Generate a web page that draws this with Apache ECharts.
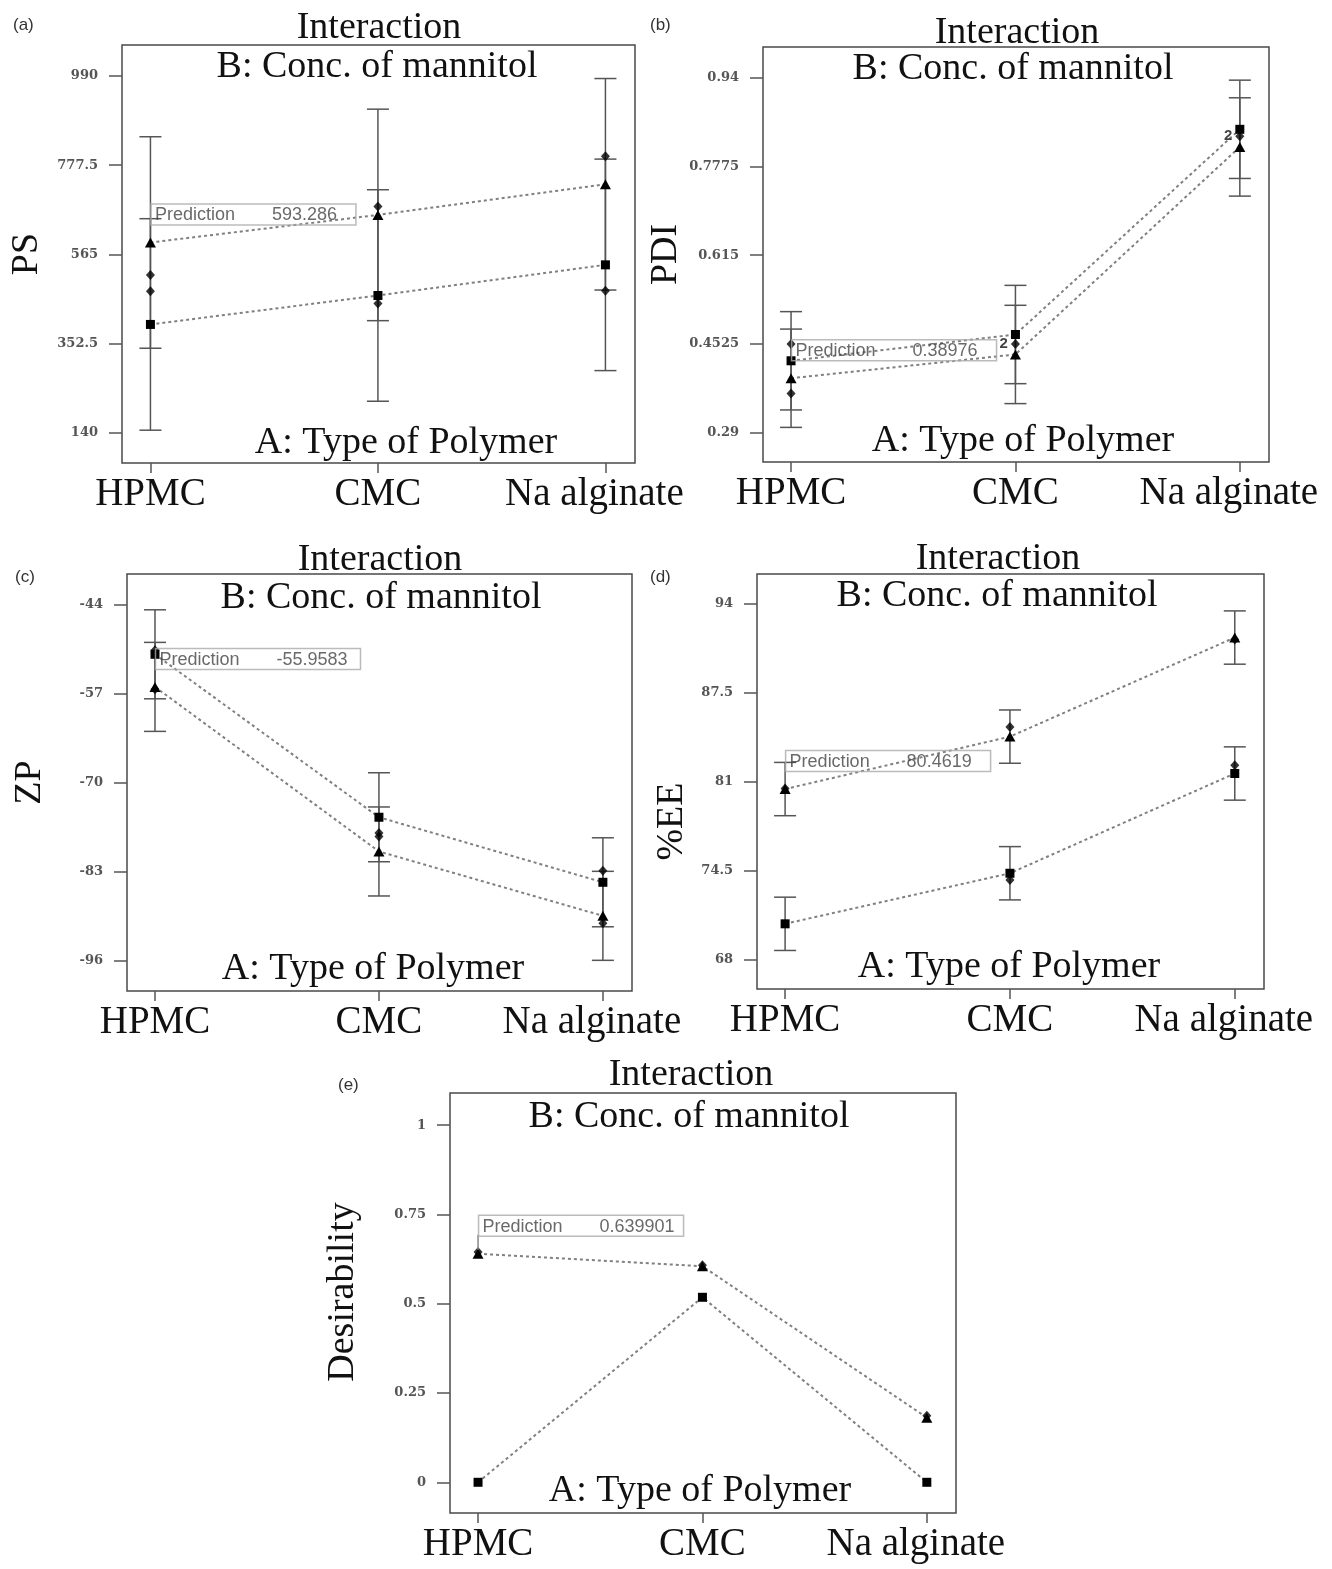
<!DOCTYPE html>
<html><head><meta charset="utf-8">
<script src="https://cdn.jsdelivr.net/npm/echarts@6/dist/echarts.min.js"></script>
<style>html,body{margin:0;padding:0;background:#fff}#chart{width:1332px;height:1569px}</style>
</head><body><div id="chart"></div>
<script>
// ---------- data ----------
const polymers = ['HPMC', 'CMC', 'Na alginate'];
const polymerIndex = [0, 1, 2];

// (a) PS
const psTicks = [140, 352.5, 565, 777.5, 990];
const psLow = [398, 467, 540];            // B- (squares)
const psHigh = [593.286, 659, 732];       // B+ (triangles)
const psDesign = [[0, 516], [0, 477], [1, 679], [1, 448], [2, 799], [2, 478]];
const psDesignCount = [1, 1, 1, 1, 1, 1];
const psHalfLSD = 252;

// (b) PDI
const pdiTicks = [0.29, 0.4525, 0.615, 0.7775, 0.94];
const pdiLow = [0.4217, 0.4698, 0.8455];
const pdiHigh = [0.38976, 0.4333, 0.8132];
const pdiDesign = [[0, 0.4525], [0, 0.362], [1, 0.4525], [2, 0.833]];
const pdiDesignCount = [1, 1, 2, 2];
const pdiHalfLSD = 0.09;

// (c) ZP
const zpTicks = [-96, -83, -70, -57, -44];
const zpLow = [-51.2, -75.0, -84.5];
const zpHigh = [-55.9583, -80.0, -89.4];
const zpDesign = [[0, -50.6], [0, -56.3], [1, -77.3], [1, -77.8], [2, -82.8], [2, -90.5]];
const zpDesignCount = [1, 1, 1, 1, 1, 1];
const zpHalfLSD = 6.5;

// (d) %EE
const eeTicks = [68, 74.5, 81, 87.5, 94];
const eeLow = [70.6, 74.3, 81.6];
const eeHigh = [80.4619, 84.3, 91.55];
const eeDesign = [[0, 80.5], [1, 85.0], [1, 73.8], [2, 91.4], [2, 82.2]];
const eeDesignCount = [1, 1, 1, 1, 1];
const eeHalfLSD = 1.95;

// (e) Desirability
const desTicks = [0, 0.25, 0.5, 0.75, 1];
const desLow = [0, 0.518, 0];
const desHigh = [0.639901, 0.605, 0.181];
const desDesign = [[0, 0.645], [1, 0.608], [2, 0.186]];
const desDesignCount = [1, 1, 1];

// ---------- layout / style ----------
const SERIF = '"Liberation Serif", "Times New Roman", serif';
const SANS = '"Liberation Sans", Arial, sans-serif';

const panels = [
  { tag: '(a)', tagPos: [13, 17], grid: { left: 122, top: 45, width: 513, height: 418 }, yMin: 67.8, yMax: 1063.9,
    ticks: psTicks, name: 'PS', nameGap: 76, namePad: [0, 0, 0, 0], low: psLow, high: psHigh, design: psDesign, counts: psDesignCount,
    half: psHalfLSD, titleX: [379, 377, 406], titleY: [25, 64, 440], leader: false },
  { tag: '(b)', tagPos: [650, 17], grid: { left: 763, top: 47, width: 506, height: 415 }, yMin: 0.2364, yMax: 0.9962,
    ticks: pdiTicks, name: 'PDI', nameGap: 67, namePad: [0, 0, 0, 0], low: pdiLow, high: pdiHigh, design: pdiDesign, counts: pdiDesignCount,
    half: pdiHalfLSD, titleX: [1017, 1013, 1023], titleY: [30, 66, 438], leader: false },
  { tag: '(c)', tagPos: [15, 569], grid: { left: 127, top: 574, width: 505, height: 417 }, yMin: -100.38, yMax: -39.47,
    ticks: zpTicks, name: 'ZP', nameGap: 78, namePad: [0, 0, 0, 0], low: zpLow, high: zpHigh, design: zpDesign, counts: zpDesignCount,
    half: zpHalfLSD, titleX: [380, 381, 373], titleY: [557, 595, 966], leader: false },
  { tag: '(d)', tagPos: [650, 569], grid: { left: 757, top: 574, width: 507, height: 415 }, yMin: 65.83, yMax: 96.2,
    ticks: eeTicks, name: '%EE', nameGap: 66, namePad: [0, 80, 0, 0], low: eeLow, high: eeHigh, design: eeDesign, counts: eeDesignCount,
    half: eeHalfLSD, titleX: [998, 997, 1009], titleY: [556, 593, 964], leader: false },
  { tag: '(e)', tagPos: [338, 1077], grid: { left: 450, top: 1093, width: 506, height: 420 }, yMin: -0.086, yMax: 1.09,
    ticks: desTicks, name: 'Desirability', nameGap: 88, namePad: [0, 0, 0, 22], low: desLow, high: desHigh, design: desDesign, counts: desDesignCount,
    half: null, titleX: [691, 689, 700], titleY: [1072, 1114, 1488], leader: true }
];

const titleTexts = ['Interaction', 'B: Conc. of mannitol', 'A: Type of Polymer'];

const grids = [], xAxes = [], yAxes = [], series = [], titles = [];

panels.forEach((p, i) => {
  grids.push(Object.assign({ show: true, borderColor: '#4a4a4a', borderWidth: 1.5, backgroundColor: 'transparent',
    containLabel: false, outerBoundsMode: 'none' }, p.grid));

  xAxes.push({
    type: 'value', gridIndex: i, min: -0.125, max: 2.13, position: 'bottom',
    axisLine: { show: false, onZero: false }, splitLine: { show: false },
    axisTick: { show: true, length: 10, customValues: polymerIndex, lineStyle: { color: '#555', width: 1.5 } },
    axisLabel: { customValues: polymerIndex,
      formatter: v => { const k = Math.round(v); return k === 2 ? '{n|' + polymers[k] + '}' : polymers[k]; },
      rich: { n: { fontFamily: SERIF, fontSize: 39, color: '#111', padding: [0, 22, 0, 0] } },
      fontFamily: SERIF, fontSize: 39, color: '#111', margin: 12, hideOverlap: false }
  });

  yAxes.push({
    type: 'value', gridIndex: i, min: p.yMin, max: p.yMax, position: 'left',
    axisLine: { show: false, onZero: false }, splitLine: { show: false },
    axisTick: { show: true, length: 13, customValues: p.ticks, lineStyle: { color: '#555', width: 1.5 } },
    axisLabel: { customValues: p.ticks, formatter: v => String(v), fontFamily: '"DejaVu Serif", serif',
      fontWeight: 'bold', fontSize: 13, color: '#555', margin: 24 },
    name: p.name, nameLocation: 'middle', nameGap: p.nameGap, nameRotate: 90,
    nameTextStyle: { fontFamily: SERIF, fontSize: 38, color: '#111', padding: p.namePad }
  });

  // titles
  titleTexts.forEach((t, k) => {
    titles.push({ text: t, left: p.titleX[k], top: p.titleY[k] - 16, textAlign: 'center', padding: 0,
      textStyle: { fontFamily: SERIF, fontSize: 38, fontWeight: 'normal', color: '#111' } });
  });
  titles.push({ text: p.tag, left: p.tagPos[0], top: p.tagPos[1], padding: 0,
    textStyle: { fontFamily: SANS, fontSize: 17, fontWeight: 'normal', color: '#333' } });

  // error bars
  if (p.half !== null) {
    const eb = [];
    polymerIndex.forEach(k => {
      eb.push([k, p.low[k] - p.half, p.low[k] + p.half]);
      eb.push([k, p.high[k] - p.half, p.high[k] + p.half]);
    });
    series.push({
      type: 'custom', xAxisIndex: i, yAxisIndex: i, data: eb, silent: true, z: 2,
      encode: { x: 0, y: [1, 2] },
      renderItem(params, api) {
        const x = api.value(0);
        const a = api.coord([x, api.value(1)]);
        const b = api.coord([x, api.value(2)]);
        const w = 11;
        const st = { stroke: '#555', lineWidth: 1.5 };
        return { type: 'group', children: [
          { type: 'line', shape: { x1: a[0], y1: a[1], x2: b[0], y2: b[1] }, style: st },
          { type: 'line', shape: { x1: a[0] - w, y1: a[1], x2: a[0] + w, y2: a[1] }, style: st },
          { type: 'line', shape: { x1: b[0] - w, y1: b[1], x2: b[0] + w, y2: b[1] }, style: st }
        ] };
      }
    });
  }

  const lineStyle = { color: '#808080', width: 2, type: [3, 3] };
  series.push({
    type: 'line', xAxisIndex: i, yAxisIndex: i, data: p.low.map((v, k) => [polymerIndex[k], v]),
    symbol: 'rect', symbolSize: 9, showSymbol: true, itemStyle: { color: '#000' }, lineStyle, silent: true, z: 3,
    animation: false, clip: false
  });
  series.push({
    type: 'line', xAxisIndex: i, yAxisIndex: i, data: p.high.map((v, k) => [polymerIndex[k], v]),
    symbol: 'triangle', symbolSize: [11, 10], showSymbol: true, itemStyle: { color: '#000' }, lineStyle, silent: true, z: 3,
    animation: false, clip: false
  });
  series.push({
    type: 'scatter', xAxisIndex: i, yAxisIndex: i,
    data: p.design.map((d, k) => ({ value: d, count: p.counts[k] })),
    symbol: 'diamond', symbolSize: [9, 10], itemStyle: { color: '#000' }, silent: true, z: 4, animation: false,
    label: { show: true, position: 'left', distance: 3, fontFamily: SANS, fontWeight: 'bold', fontSize: 15, color: '#111',
      formatter: prm => (p.counts[prm.dataIndex] > 1 ? String(p.counts[prm.dataIndex]) : '') }
  });

  // prediction box at B+ / HPMC
  const predVal = p.high[0];
  series.push({
    type: 'scatter', xAxisIndex: i, yAxisIndex: i, data: [[polymerIndex[0], predVal]],
    symbolSize: 1, itemStyle: { color: 'rgba(0,0,0,0)' }, silent: true, z: 6, animation: false,
    label: {
      show: true, position: [1, -17], align: 'left', verticalAlign: 'bottom',
      formatter: () => '{a|Prediction}{b|' + String(predVal) + '}',
      borderColor: '#aaa', borderWidth: 1.5, padding: [2, 4, 0, 4],
      rich: {
        a: { width: 117, fontFamily: SANS, fontSize: 18, lineHeight: 19, color: '#444' },
        b: { width: 80, fontFamily: SANS, fontSize: 18, lineHeight: 19, color: '#444' }
      }
    }
  });

  if (p.leader) {
    series.push({
      type: 'custom', xAxisIndex: i, yAxisIndex: i, data: [[polymerIndex[0], predVal]], silent: true, z: 5,
      encode: { x: 0, y: 1 },
      renderItem(params, api) {
        const c = api.coord([api.value(0), api.value(1)]);
        return { type: 'line', shape: { x1: c[0], y1: c[1] - 4, x2: c[0], y2: c[1] - 19 },
          style: { stroke: '#888', lineWidth: 1.5 } };
      }
    });
  }
});

const chart = echarts.init(document.getElementById('chart'), null, { renderer: 'canvas' });
chart.setOption({
  backgroundColor: '#fff',
  animation: false,
  title: titles,
  grid: grids,
  xAxis: xAxes,
  yAxis: yAxes,
  series: series
});
</script>
</body></html>
